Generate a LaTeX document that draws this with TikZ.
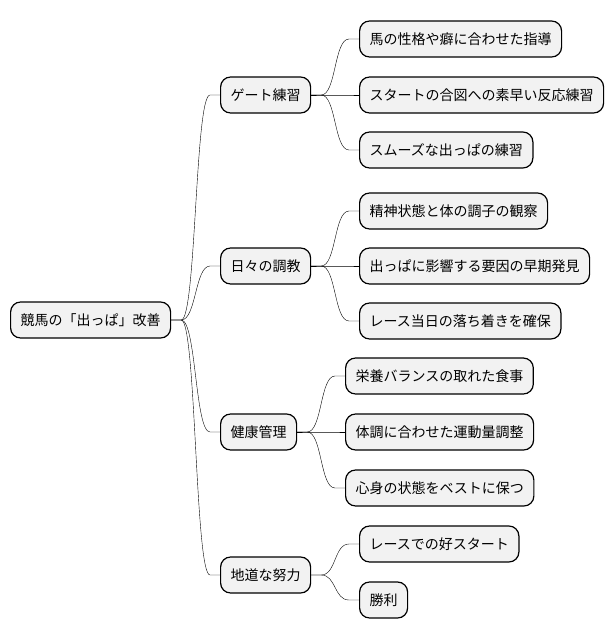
\documentclass[tikz,border=0pt]{standalone}
\usepackage{fontspec}
\setmainfont{Noto Sans CJK JP}
\usetikzlibrary{calc}

\begin{document}
\begin{tikzpicture}[x=1pt, y=-1pt,
    every node/.style={font=\fontsize{14}{16}\selectfont},
    topic/.style={draw, line width=1.2pt, fill=gray!10, rounded corners=10pt,
      minimum height=36pt, inner xsep=10pt, anchor=west},
    mmlink/.style={line width=0.8pt, to path={-- ++(10,0)
      .. controls +(15,0) and ($(\tikztotarget)+(-25,0)$) .. ($(\tikztotarget)+(-10,0)$)
      -- (\tikztotarget)}}]
  \useasboundingbox (0,0) rectangle (614,640);
  % root
  \node[topic] (root) at (10,320) {競馬の「出っぱ」改善};
  % first level
  \node[topic] (gate) at (220,95) {ゲート練習};
  \node[topic] (daily) at (220,266) {日々の調教};
  \node[topic] (health) at (220,432) {健康管理};
  \node[topic] (effort) at (220,575) {地道な努力};
  % gate practice
  \node[topic] (gateA) at (359,39) {馬の性格や癖に合わせた指導};
  \node[topic] (gateB) at (359,95) {スタートの合図への素早い反応練習};
  \node[topic] (gateC) at (359,150) {スムーズな出っぱの練習};
  % daily training
  \node[topic] (dailyA) at (359,211) {精神状態と体の調子の観察};
  \node[topic] (dailyB) at (359,266) {出っぱに影響する要因の早期発見};
  \node[topic] (dailyC) at (359,321) {レース当日の落ち着きを確保};
  % health care
  \node[topic] (healthA) at (345,376) {栄養バランスの取れた食事};
  \node[topic] (healthB) at (345,432) {体調に合わせた運動量調整};
  \node[topic] (healthC) at (345,488) {心身の状態をベストに保つ};
  % steady effort
  \node[topic] (effortA) at (359,544) {レースでの好スタート};
  \node[topic] (effortB) at (359,600) {勝利};
  % links
  \draw (root.east) to[mmlink] (gate.west);
  \draw (root.east) to[mmlink] (daily.west);
  \draw (root.east) to[mmlink] (health.west);
  \draw (root.east) to[mmlink] (effort.west);
  \draw (gate.east) to[mmlink] (gateA.west);
  \draw (gate.east) to[mmlink] (gateB.west);
  \draw (gate.east) to[mmlink] (gateC.west);
  \draw (daily.east) to[mmlink] (dailyA.west);
  \draw (daily.east) to[mmlink] (dailyB.west);
  \draw (daily.east) to[mmlink] (dailyC.west);
  \draw (health.east) to[mmlink] (healthA.west);
  \draw (health.east) to[mmlink] (healthB.west);
  \draw (health.east) to[mmlink] (healthC.west);
  \draw (effort.east) to[mmlink] (effortA.west);
  \draw (effort.east) to[mmlink] (effortB.west);
\end{tikzpicture}
\end{document}
